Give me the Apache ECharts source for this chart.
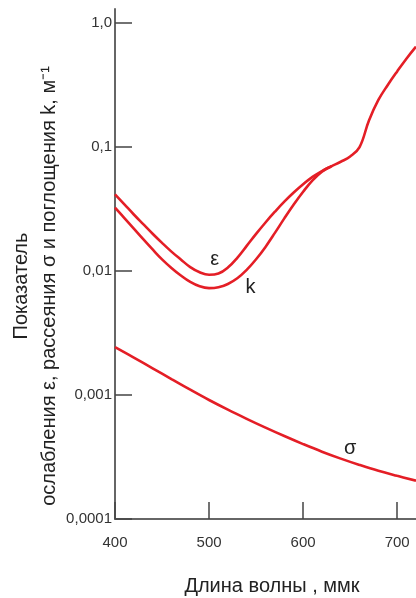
<!DOCTYPE html>
<html>
<head>
<meta charset="utf-8">
<script src="https://cdn.jsdelivr.net/npm/echarts@6/dist/echarts.min.js"></script>
<style>
html,body{margin:0;padding:0;background:#fff;}
#c{width:416px;height:598px;}
</style>
</head>
<body>
<div id="c"></div>
<script>
// Wavelength (ммк) and values
const lambdaEps = [400,410,420,430,440,450,460,470,480,490,500,510,520,530,540,550,560,570,580,590,600,610,620,630,640,650,660,670,680,690,700,710,720];
const epsValues = [0.0416,0.0345,0.0286,0.0239,0.0200,0.01687,0.01435,0.01239,0.01076,0.00977,0.00933,0.00955,0.01067,0.01279,0.01596,0.01995,0.02466,0.0301,0.0363,0.0430,0.0501,0.0575,0.0641,0.0700,0.0762,0.0839,0.100,0.164,0.240,0.317,0.408,0.519,0.646];

const lambdaK = [400,410,420,430,440,450,460,470,480,490,500,510,520,530,540,550,560,570,580,590,600,610,620,630];
const kValues = [0.0325,0.02673,0.02198,0.01807,0.01493,0.01242,0.01059,0.00920,0.00817,0.00753,0.00728,0.00740,0.00787,0.00875,0.01023,0.01245,0.01567,0.02032,0.02661,0.03443,0.04365,0.05395,0.06339,0.0700];

const lambdaSigma = [400,420,440,460,480,500,520,540,560,580,600,620,640,660,680,700,720];
const sigmaValues = [0.002432,0.002004,0.001644,0.001346,0.001104,0.000912,0.000762,0.000643,0.000546,0.000467,0.000402,0.000349,0.000307,0.000273,0.000245,0.000223,0.000204];

const xTicks = [400,500,600,700];
const yTicks = [0.0001,0.001,0.01,0.1,1];
const yTickLabels = ['0,0001','0,001','0,01','0,1','1,0'];

// curve annotation positions [λ, value]
const curveLabels = [
  {name:'ε', coord:[506,0.0125]},
  {name:'k', coord:[544,0.0074]},
  {name:'σ', coord:[650,0.00037]}
];

const RED = '#e41e26';
const FONT = '"Liberation Sans", Arial, sans-serif';

function pairs(xs, ys){ return xs.map((x,i)=>[x, ys[i]]); }

function labelPoint(idx){
  const l = curveLabels[idx];
  return {
    symbol:'rect', symbolSize:1, silent:true,
    itemStyle:{color:'rgba(0,0,0,0)'},
    label:{show:true, position:'inside', formatter:l.name, color:'#222', fontSize:20, fontFamily:FONT},
    data:[{coord:l.coord}]
  };
}

const chart = echarts.init(document.getElementById('c'), null, {renderer:'canvas'});
chart.setOption({
  animation:false,
  backgroundColor:'#fff',
  grid:{left:115, right:0, top:9, bottom:79, containLabel:false, outerBoundsMode:'none'},
  xAxis:{
    type:'value', min:400, max:720,
    name:'Длина волны , ммк', nameLocation:'middle', nameGap:57, nameMoveOverlap:false,
    nameTextStyle:{fontSize:20, fontFamily:FONT, color:'#222', padding:[0,0,0,13], verticalAlign:'top'},
    axisLine:{show:true, lineStyle:{color:'#666', width:2}},
    axisTick:{show:true, inside:true, length:17, lineStyle:{color:'#444', width:1.5}, customValues:xTicks},
    axisLabel:{fontSize:15, fontFamily:FONT, color:'#333', margin:16, customValues:xTicks},
    splitLine:{show:false}
  },
  yAxis:{
    type:'log', logBase:10, min:0.0001, max:1.3,
    name:'Показатель\nослабления ε, рассеяния σ и поглощения k, м⁻¹',
    nameLocation:'middle', nameRotate:90, nameGap:52, nameMoveOverlap:false,
    nameTextStyle:{fontSize:20, fontFamily:FONT, color:'#222', lineHeight:28, padding:[0,44,0,0]},
    axisLine:{show:true, onZero:false, lineStyle:{color:'#666', width:2}},
    axisTick:{show:true, inside:true, length:17, lineStyle:{color:'#444', width:1.5}, customValues:yTicks},
    axisLabel:{fontSize:15, fontFamily:FONT, color:'#333', margin:3, customValues:yTicks,
      formatter:function(v){
        for (let i=0;i<yTicks.length;i++){ if (Math.abs(Math.log10(v)-Math.log10(yTicks[i]))<1e-6) return yTickLabels[i]; }
        return '';
      }},
    splitLine:{show:false}
  },
  series:[
    {name:'ε', type:'line', data:pairs(lambdaEps, epsValues), smooth:0.4, showSymbol:false, clip:true,
     lineStyle:{color:RED, width:2.6}, markPoint:labelPoint(0)},
    {name:'k', type:'line', data:pairs(lambdaK, kValues), smooth:0.4, showSymbol:false, clip:true,
     lineStyle:{color:RED, width:2.6}, markPoint:labelPoint(1)},
    {name:'σ', type:'line', data:pairs(lambdaSigma, sigmaValues), smooth:0.4, showSymbol:false, clip:true,
     lineStyle:{color:RED, width:2.6}, markPoint:labelPoint(2)}
  ]
});
</script>
</body>
</html>
